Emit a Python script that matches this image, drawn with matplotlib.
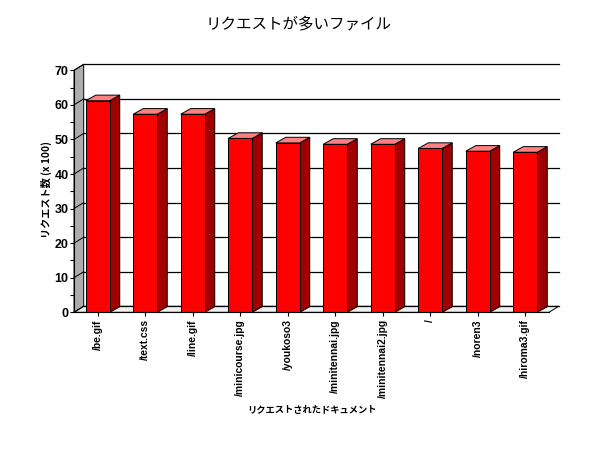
import matplotlib
matplotlib.use("Agg")
import matplotlib.pyplot as plt
from matplotlib.patches import Polygon, Rectangle

plt.rcParams["font.family"] = ["Noto Sans CJK JP", "DejaVu Sans"]

files = ["/be.gif", "/text.css", "/line.gif", "/minicourse.jpg", "/youkoso3",
         "/minitennai.jpg", "/minitennai2.jpg", "/", "/noren3", "/hiroma3.gif"]
requests = [61.2, 57.3, 57.3, 50.3, 49.0, 48.6, 48.6, 47.4, 46.6, 46.3]
y_ticks = [0, 10, 20, 30, 40, 50, 60, 70]
y_minor = [5, 15, 25, 35, 45, 55, 65]

W, H = 600, 450
LEFT, RIGHT, BOTTOM, TOP = 74, 549, 312.3, 70.3  # front plane, in pixels

fig = plt.figure(figsize=(6, 4.5), dpi=100)
ax = fig.add_axes([LEFT / W, 1 - BOTTOM / H, (RIGHT - LEFT) / W, (BOTTOM - TOP) / H])
ax.set_xlim(-0.5, 9.5)
ax.set_ylim(0, 70)
ax.patch.set_visible(False)

# depth of the fake 3D box, in data units
dx = 9.7 / 47.5
dy = 6.0 / 3.457
bar_w = 0.505
bar_dx = 10 / 47.5
bar_dy = 5.6 / 3.457
x0, x1 = -0.5, 9.5
edge = 0.7

ax.add_patch(Polygon([(x0, 0), (x0 + dx, dy), (x0 + dx, 70 + dy), (x0, 70)], closed=True,
                     fc="#adadad", ec="black", lw=edge, clip_on=False, zorder=1))
ax.add_patch(Polygon([(x0, 0), (x1, 0), (x1 + dx, dy), (x0 + dx, dy)], closed=True,
                     fc="#f0f0f0", ec="black", lw=edge, clip_on=False, zorder=1))

for v in y_ticks:
    ax.plot([x0 + dx, x1 + dx], [v + dy, v + dy], color="black", lw=0.9, clip_on=False, zorder=2)
    ax.plot([x0, x0 + dx], [v, v + dy], color="black", lw=edge, clip_on=False, zorder=2)

for i, v in enumerate(requests):
    l = i - bar_w / 2
    r = i + bar_w / 2
    ax.add_patch(Polygon([(r, 0), (r + bar_dx, bar_dy), (r + bar_dx, v + bar_dy), (r, v)], closed=True,
                         fc="#a00000", ec="black", lw=edge, clip_on=False, zorder=3))
    ax.add_patch(Polygon([(l, v), (r, v), (r + bar_dx, v + bar_dy), (l + bar_dx, v + bar_dy)], closed=True,
                         fc="#ff8080", ec="black", lw=edge, clip_on=False, zorder=3))
    ax.add_patch(Rectangle((l, 0), bar_w, v, fc="#ff0000", ec="black", lw=edge, clip_on=False, zorder=4))

for side in ["top", "right"]:
    ax.spines[side].set_visible(False)
ax.spines["left"].set_zorder(5)
ax.spines["bottom"].set_zorder(5)

ax.set_yticks(y_ticks)
ax.set_yticks(y_minor, minor=True)
ax.set_yticklabels([str(v) for v in y_ticks], fontsize=9, fontweight="bold", family="Liberation Sans")
ax.tick_params(axis="y", which="major", length=3, width=0.8, pad=1)
ax.tick_params(axis="y", which="minor", length=3, width=0.8)

ax.set_xticks(range(len(files)))
ax.set_xticklabels(files, rotation=90, fontsize=7.4, fontweight="bold", family="Liberation Sans")
ax.tick_params(axis="x", length=3, width=0.8, pad=2)

fig.text(298.5 / W, 1 - 24 / H, "リクエストが多いファイル", ha="center", va="center",
         fontsize=11.2, color="black")
fig.text(311.5 / W, 1 - 410 / H, "リクエストされたドキュメント", ha="center", va="center",
         fontsize=6.7, fontweight="bold")
fig.text(46 / W, 1 - 190 / H, "リクエスト数 (x 100)", rotation=90, ha="center", va="center",
         fontsize=7.3, fontweight="bold")

fig.savefig("out.png", dpi=100)
